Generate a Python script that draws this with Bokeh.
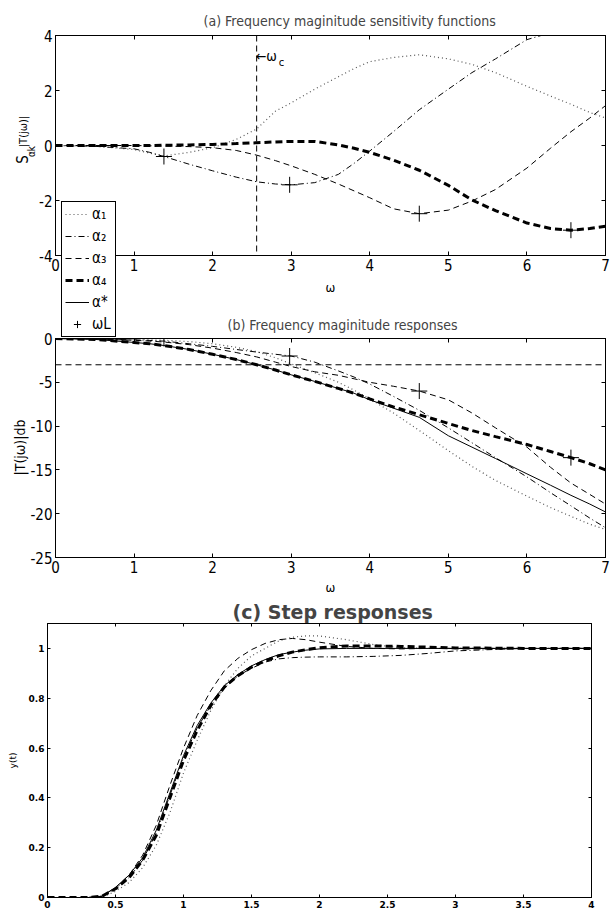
import math
from bokeh.plotting import figure
from bokeh.models import (FixedTicker, LinearAxis, Legend, LegendItem, Label,
                          Span, Range1d)
from bokeh.layouts import column
from bokeh.embed import file_html
from bokeh.resources import INLINE

# ------------------------------------------------------------------ data
w = [0, 0.5, 1.0, 1.2, 1.38, 1.7, 2.0, 2.3, 2.56, 2.8, 3.0, 3.3, 3.6, 3.8,
     4.0, 4.3, 4.63, 5.0, 5.3, 5.6, 6.0, 6.3, 6.56, 6.8, 7.0]

# (a) sensitivity functions
sens_a1 = [0, -0.02, -0.15, -0.28, -0.38, -0.25, -0.08, 0.22, 0.6, 1.25, 1.55,
           2.05, 2.5, 2.8, 3.05, 3.2, 3.3, 3.15, 2.95, 2.65, 2.15, 1.8, 1.5,
           1.2, 1.0]
sens_a2 = [0, -0.03, -0.12, -0.25, -0.4, -0.68, -0.92, -1.15, -1.32, -1.4,
           -1.43, -1.35, -1.05, -0.65, -0.2, 0.5, 1.3, 2.05, 2.65, 3.15, 3.85,
           4.1, 4.3, 4.4, 4.45]
sens_a3 = [0, 0, 0, -0.01, -0.02, -0.04, -0.08, -0.18, -0.35, -0.55, -0.74,
           -1.05, -1.4, -1.65, -1.9, -2.3, -2.48, -2.35, -2.02, -1.6, -0.82,
           -0.1, 0.5, 1.0, 1.45]
sens_a4 = [0, 0, 0, 0, 0.01, 0.02, 0.04, 0.07, 0.1, 0.13, 0.15, 0.15, 0.02,
           -0.1, -0.25, -0.53, -0.9, -1.45, -1.98, -2.37, -2.82, -3.02, -3.08,
           -3.02, -2.94]

# (b) magnitude responses, dB
mag_a1 = [0, -0.03, -0.1, -0.15, -0.2, -0.35, -0.6, -1.0, -1.5, -2.2, -2.9,
          -3.9, -5.0, -5.9, -6.9, -8.5, -10.5, -12.8, -14.6, -16.2, -18.0,
          -19.3, -20.3, -21.2, -21.8]
mag_a2 = [0, -0.05, -0.15, -0.22, -0.3, -0.6, -0.9, -1.25, -1.55, -1.8, -2.0,
          -2.7, -3.7, -4.4, -5.2, -6.6, -8.2, -10.2, -11.9, -13.6, -15.8,
          -17.6, -19.1, -20.5, -21.6]
mag_a3 = [0, -0.05, -0.2, -0.3, -0.4, -0.7, -1.1, -1.6, -2.1, -2.7, -3.2,
          -3.8, -4.2, -4.6, -5.0, -5.45, -6.0, -7.0, -8.5, -10.2, -12.4,
          -14.7, -16.5, -17.8, -18.9]
mag_a4 = [0, -0.1, -0.45, -0.6, -0.8, -1.25, -1.8, -2.4, -3.0, -3.6, -4.15,
          -4.9, -5.7, -6.25, -6.9, -7.8, -8.7, -9.7, -10.5, -11.2, -12.1,
          -12.9, -13.6, -14.3, -15.0]
mag_star = [0, -0.1, -0.45, -0.6, -0.8, -1.25, -1.8, -2.4, -3.0, -3.6, -4.15,
            -4.9, -5.7, -6.25, -7.0, -7.95, -9.0, -11.1, -12.4, -13.7, -15.45,
            -16.75, -17.9, -18.9, -19.8]

w_L = [1.38, 2.98, 4.63, 6.56]
sens_L = [-0.4, -1.43, -2.48, -3.08]
mag_L = [0.0, -2.0, -6.0, -13.6]
w_c = 2.56
db3 = -3

# (c) step responses
t = [0, 0.3, 0.4, 0.5, 0.6, 0.7, 0.8, 0.9, 1.0, 1.1, 1.2, 1.3, 1.4, 1.5, 1.6,
     1.7, 1.8, 1.9, 2.0, 2.2, 2.4, 2.6, 2.8, 3.0, 3.5, 4.0]
y_star = [0, 0, 0.005, 0.04, 0.09, 0.16, 0.27, 0.42, 0.57, 0.69, 0.78, 0.85,
          0.895, 0.93, 0.955, 0.975, 0.985, 0.993, 0.998, 1.0, 1.0, 1.0, 1.0,
          1.0, 1.0, 1.0]
y_a1 = [0, 0, 0, 0.025, 0.06, 0.12, 0.21, 0.34, 0.5, 0.63, 0.75, 0.85, 0.92,
        0.97, 1.0, 1.03, 1.045, 1.05, 1.05, 1.035, 1.015, 1.003, 1.0, 1.0,
        1.0, 1.0]
y_a2 = [0, 0, 0.005, 0.035, 0.08, 0.15, 0.26, 0.41, 0.56, 0.68, 0.77, 0.84,
        0.89, 0.92, 0.945, 0.958, 0.963, 0.965, 0.966, 0.966, 0.968, 0.972,
        0.98, 0.99, 1.0, 1.0]
y_a3 = [0, 0, 0.005, 0.04, 0.09, 0.17, 0.29, 0.45, 0.6, 0.73, 0.83, 0.91,
        0.96, 0.995, 1.02, 1.035, 1.04, 1.035, 1.025, 1.008, 1.0, 0.998, 1.0,
        1.0, 1.0, 1.0]
y_a4 = [0, 0, 0.005, 0.035, 0.08, 0.15, 0.25, 0.4, 0.55, 0.67, 0.77, 0.845,
        0.89, 0.925, 0.95, 0.97, 0.985, 0.995, 1.003, 1.01, 1.01, 1.008,
        1.005, 1.002, 1.0, 1.0]

# ticks
w_ticks = [0, 1, 2, 3, 4, 5, 6, 7]
w_tick_labels = ["0", "1", "2", "3", "4", "5", "6", "7"]
sens_ticks = [-4, -2, 0, 2, 4]
sens_tick_labels = ["-4", "-2", "0", "2", "4"]
mag_ticks = [-25, -20, -15, -10, -5, 0]
mag_tick_labels = ["-25", "-20", "-15", "-10", "-5", "0"]
t_ticks = [0, 0.5, 1, 1.5, 2, 2.5, 3, 3.5, 4]
t_tick_labels = ["0", "0.5", "1", "1.5", "2", "2.5", "3", "3.5", "4"]
y_ticks = [0, 0.2, 0.4, 0.6, 0.8, 1.0]
y_tick_labels = ["0", "0.2", "0.4", "0.6", "0.8", "1"]

legend_labels = ["α₁", "α₂", "α₃", "α₄", "α*", "ωL"]

# ------------------------------------------------------------------ styles
NARROW = "DejaVu Sans Condensed"
WIDE = "DejaVu Sans"
STY = {
    "a1": dict(line_color="#555555", line_width=1.2, line_dash="1 3"),
    "a2": dict(line_color="black", line_width=1, line_dash="6 3 1 3"),
    "a3": dict(line_color="black", line_width=1, line_dash="6 4"),
    "a4": dict(line_color="black", line_width=3, line_dash="7 4"),
    "as": dict(line_color="black", line_width=1),
}
FULL_W = 610
BL = 55   # common left border (column aligns frames)
BR = 5    # common right border


def style(p, xt, xl, yt, yl, font, size, weight="normal", tick=4):
    bottom = p.below[0]
    left = p.left[0]
    bottom.ticker = FixedTicker(ticks=xt)
    left.ticker = FixedTicker(ticks=yt)
    bottom.major_label_overrides = {k: v for k, v in zip(xt, xl)}
    left.major_label_overrides = {k: v for k, v in zip(yt, yl)}
    p.xgrid.visible = False
    p.ygrid.visible = False
    p.outline_line_color = "black"
    p.outline_line_alpha = 1
    p.outline_line_width = 1
    for ax in (bottom, left):
        ax.major_tick_in = tick
        ax.major_tick_out = 0
        ax.minor_tick_line_color = None
        ax.axis_line_color = "black"
        ax.major_label_text_font = font
        ax.major_label_text_font_size = size
        ax.major_label_text_font_style = weight
        ax.major_label_text_color = "black"
        ax.axis_label_text_font_style = "normal"
        ax.axis_label_text_color = "black"
        ax.major_label_standoff = 3
    top = LinearAxis(ticker=FixedTicker(ticks=xt), major_tick_in=tick,
                     major_tick_out=0, minor_tick_line_color=None,
                     major_label_text_color=None,
                     major_label_text_font_size="1px", major_label_standoff=0)
    right = LinearAxis(ticker=FixedTicker(ticks=yt), major_tick_in=tick,
                       major_tick_out=0, minor_tick_line_color=None,
                       major_label_text_color=None,
                       major_label_text_font_size="1px", major_label_standoff=0)
    p.add_layout(top, "above")
    p.add_layout(right, "right")
    return bottom, left


def set_title(p, text, font, size, weight, standoff, offset, valign="bottom"):
    p.title.text = text
    p.title.align = "left"
    p.title.offset = offset
    p.title.text_font = font
    p.title.text_font_size = size
    p.title.text_font_style = weight
    p.title.standoff = standoff
    p.title.vertical_align = valign


# ------------------------------------------------------------------ (a)
pa = figure(width=FULL_W, height=305, x_range=Range1d(0, 7),
            y_range=Range1d(-4, 4), output_backend="svg",
            toolbar_location=None, min_border_left=BL, min_border_right=BR,
            min_border_top=35, min_border_bottom=50)
set_title(pa, "(a) Frequency maginitude sensitivity functions", NARROW,
          "14px", "normal", 9, 148, "top")
xa, ya = style(pa, w_ticks, w_tick_labels, sens_ticks, sens_tick_labels,
               NARROW, "15px")
xa.axis_label = "ω"
xa.axis_label_text_font = NARROW
xa.axis_label_text_font_size = "13px"
xa.axis_label_standoff = 6

pa.add_layout(Span(location=w_c, dimension="height", line_color="black",
                   line_width=1, line_dash="6 4"))
pa.line(w, sens_a1, **STY["a1"])
pa.line(w, sens_a2, **STY["a2"])
pa.line(w, sens_a3, **STY["a3"])
pa.line(w, sens_a4, **STY["a4"])
pa.scatter(w_L, sens_L, marker="cross", size=16, line_color="black",
           line_width=1)

pa.add_layout(Label(x=w_c, y=3.25, text="←ω", text_font=NARROW,
                    text_font_size="14px", text_baseline="middle",
                    text_color="black", x_offset=-1))
pa.add_layout(Label(x=w_c, y=3.25, text="c", text_font=NARROW,
                    text_font_size="11px", text_baseline="middle",
                    text_color="black", x_offset=22, y_offset=-6))

# ------------------------- overlay: y labels and the legend spanning (a)/(b)
# its frame starts at the page's left edge (negative margin cancels BL)
PO_TOP, PO_BOT = 108, 500
po = figure(width=FULL_W, height=PO_BOT - PO_TOP, x_range=Range1d(50, 51),
            y_range=Range1d(50, 51), x_axis_type=None, y_axis_type=None,
            title=None, output_backend="svg", toolbar_location=None,
            min_border_left=BL, min_border_right=BR, min_border_top=0,
            min_border_bottom=0, outline_line_color=None,
            background_fill_alpha=0, border_fill_alpha=0,
            margin=(PO_TOP - 305, 0, 0, -BL))


def ylab(px, py, text, size):
    po.add_layout(Label(x=px, x_units="screen", y=PO_BOT - py,
                        y_units="screen", text=text, angle=math.pi / 2,
                        text_align="center", text_baseline="middle",
                        text_font=NARROW, text_font_size=size,
                        text_color="black"))


ylab(22, 159, "S", "15px")
ylab(23, 131, "|T(jω)|", "11px")
ylab(31, 151, "αk", "10px")
ylab(19, 447, "|T(jω)|db", "14px")

# legend helpers: same data, drawn outside this overlay's visible ranges
la1 = po.line(w, sens_a1, **STY["a1"])
la2 = po.line(w, sens_a2, **STY["a2"])
la3 = po.line(w, sens_a3, **STY["a3"])
la4 = po.line(w, sens_a4, **STY["a4"])
lstar = po.line(w, mag_star, **STY["as"])
lL = po.scatter(w_L, sens_L, marker="cross", size=16, line_color="black",
                line_width=1)
legend = Legend(
    items=[LegendItem(label=legend_labels[0], renderers=[la1]),
           LegendItem(label=legend_labels[1], renderers=[la2]),
           LegendItem(label=legend_labels[2], renderers=[la3]),
           LegendItem(label=legend_labels[3], renderers=[la4]),
           LegendItem(label=legend_labels[4], renderers=[lstar]),
           LegendItem(label=legend_labels[5], renderers=[lL])],
    location=(61, PO_BOT - 337), orientation="vertical",
    border_line_color="black", border_line_width=1, border_line_alpha=1,
    background_fill_color="white", background_fill_alpha=1,
    label_text_font=NARROW, label_text_font_size="15px",
    label_text_color="black",
    glyph_width=24, glyph_height=18, label_height=18, spacing=4,
    padding=3, margin=0, label_standoff=3)
po.add_layout(legend)

# ------------------------------------------------------------------ (b)
pb = figure(width=FULL_W, height=292, x_range=Range1d(0, 7),
            y_range=Range1d(-25, 0), output_backend="svg",
            toolbar_location=None, min_border_left=BL, min_border_right=BR,
            min_border_top=33, min_border_bottom=40,
            margin=(305 - PO_BOT, 0, 0, 0), border_fill_alpha=0)
set_title(pb, "(b) Frequency maginitude responses", NARROW, "14px", "normal",
          8, 172, "top")
xb, yb = style(pb, w_ticks, w_tick_labels, mag_ticks, mag_tick_labels,
               NARROW, "15px")
xb.axis_label = "ω"
xb.axis_label_text_font = NARROW
xb.axis_label_text_font_size = "13px"
xb.axis_label_standoff = 4

pb.add_layout(Span(location=db3, dimension="width", line_color="black",
                   line_width=1, line_dash="6 4"))
pb.line(w, mag_a1, **STY["a1"])
pb.line(w, mag_a2, **STY["a2"])
pb.line(w, mag_a3, **STY["a3"])
pb.line(w, mag_a4, **STY["a4"])
pb.line(w, mag_star, **STY["as"])
pb.scatter(w_L, mag_L, marker="cross", size=16, line_color="black",
           line_width=1)

# ------------------------------------------------------------------ (c)
# frame 47..591 on the page: shift left by 8 and narrow the canvas
pc = figure(width=FULL_W - 6, height=313, x_range=Range1d(0, 4),
            y_range=Range1d(0, 1.1), output_backend="svg",
            toolbar_location=None, min_border_left=BL, min_border_right=BR,
            min_border_top=26, min_border_bottom=13, margin=(0, 0, 0, -8))
set_title(pc, "(c) Step responses", WIDE, "19px", "bold", 1, 185)
xc, yc = style(pc, t_ticks, t_tick_labels, y_ticks, y_tick_labels, WIDE,
               "9px", "bold", tick=3)
yc.axis_label = "y(t)"
yc.axis_label_text_font = WIDE
yc.axis_label_text_font_size = "9px"
yc.axis_label_standoff = 8
xc.major_label_standoff = 3

pc.line(t, y_a1, **STY["a1"])
pc.line(t, y_a2, **STY["a2"])
pc.line(t, y_a3, **STY["a3"])
pc.line(t, y_a4, **STY["a4"])
pc.line(t, y_star, **STY["as"])

layout = column(pa, po, pb, pc, spacing=0)
open("out.html", "w").write(file_html(layout, INLINE))
